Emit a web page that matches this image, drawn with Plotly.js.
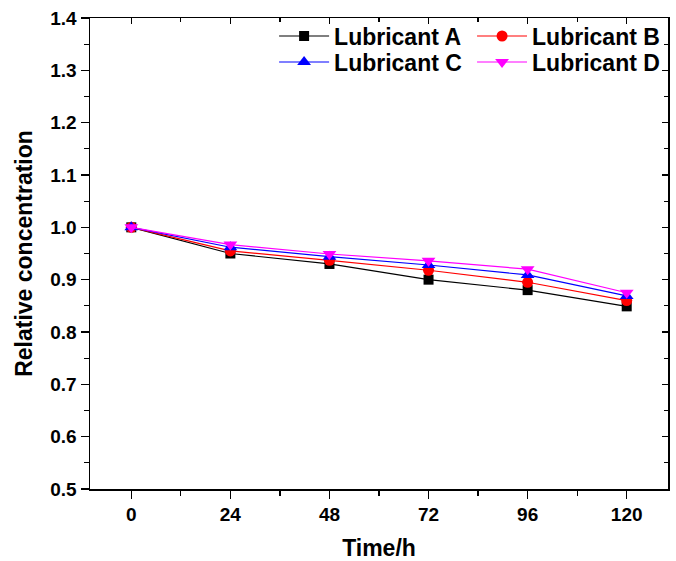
<!DOCTYPE html>
<html>
<head>
<meta charset="utf-8">
<script src="https://cdn.plot.ly/plotly-3.0.1.min.js"></script>
<style>html,body{margin:0;padding:0;background:#fff;}#chart{width:676px;height:561px;}</style>
</head>
<body>
<div id="chart"></div>
<script>
const timeH = [0, 24, 48, 72, 96, 120];
const lubricantA = [1.0, 0.950, 0.930, 0.900, 0.880, 0.849];
const lubricantB = [1.0, 0.955, 0.937, 0.918, 0.895, 0.860];
const lubricantC = [1.0, 0.962, 0.944, 0.928, 0.909, 0.869];
const lubricantD = [1.0, 0.967, 0.949, 0.936, 0.920, 0.875];
const seriesNames = ['Lubricant A', 'Lubricant B', 'Lubricant C', 'Lubricant D'];
const xTickVals = [0, 24, 48, 72, 96, 120];

const font = {family: 'Liberation Sans, Arial, sans-serif', color: '#000', weight: 'bold'};

function tr(name, y, color, symbol, size, legend) {
  return {
    x: timeH, y: y, name: name, type: 'scatter', mode: 'lines+markers',
    line: {color: color, width: 1.2},
    marker: {color: color, symbol: symbol, size: size},
    legend: legend
  };
}

const data = [
  tr(seriesNames[0], lubricantA, '#000000', 'square', 10, 'legend'),
  tr(seriesNames[1], lubricantB, '#FF0000', 'circle', 11, 'legend2'),
  tr(seriesNames[2], lubricantC, '#0000FF', 'triangle-up', 12, 'legend3'),
  tr(seriesNames[3], lubricantD, '#FF00FF', 'triangle-down', 12, 'legend4'),
  {x: [], y: [], xaxis: 'x2', yaxis: 'y2', showlegend: false, type: 'scatter', mode: 'markers', hoverinfo: 'skip'}
];

const legendBase = {
  font: Object.assign({}, font, {size: 23}),
  bgcolor: 'rgba(0,0,0,0)', borderwidth: 0,
  yanchor: 'middle', xanchor: 'left',
  itemwidth: 50, tracegroupgap: 0
};

const layout = {
  width: 676, height: 561,
  paper_bgcolor: '#fff', plot_bgcolor: '#fff',
  margin: {l: 90, r: 8, t: 18, b: 72},
  showlegend: true,
  font: font,
  xaxis: {
    range: [-10, 130], tickvals: xTickVals, ticktext: xTickVals.map(String),
    ticks: 'outside', ticklen: 8, tickwidth: 1.2, tickcolor: '#000',
    minor: {dtick: 12, tick0: 0, ticks: 'outside', ticklen: 5, tickwidth: 1.2, tickcolor: '#000'},
    showline: true, linecolor: '#000', linewidth: 1.5, mirror: true,
    showgrid: false, zeroline: false,
    tickfont: Object.assign({}, font, {size: 19}),
    title: {text: 'Time/h', font: Object.assign({}, font, {size: 23}), standoff: 16},
    automargin: false
  },
  yaxis: {
    range: [0.5, 1.4], dtick: 0.1, tick0: 0.5, tickformat: '.1f',
    ticks: 'outside', ticklen: 8, tickwidth: 1.2, tickcolor: '#000',
    minor: {dtick: 0.05, tick0: 0.5, ticks: 'outside', ticklen: 5, tickwidth: 1.2, tickcolor: '#000'},
    showline: true, linecolor: '#000', linewidth: 1.5, mirror: true,
    showgrid: false, zeroline: false,
    tickfont: Object.assign({}, font, {size: 19}),
    title: {text: 'Relative concentration', font: Object.assign({}, font, {size: 23}), standoff: 11},
    automargin: false
  },
  xaxis2: {
    overlaying: 'x', side: 'top', anchor: 'y2', range: [-10, 130], tickvals: xTickVals,
    ticks: 'inside', ticklen: 6, tickwidth: 1.2, tickcolor: '#000', showticklabels: false,
    minor: {dtick: 12, tick0: 0, ticks: 'inside', ticklen: 4, tickwidth: 1.2, tickcolor: '#000'},
    showgrid: false, zeroline: false, showline: false
  },
  yaxis2: {
    overlaying: 'y', side: 'right', anchor: 'x2', range: [0.5, 1.4], dtick: 0.1, tick0: 0.5,
    ticks: 'inside', ticklen: 6, tickwidth: 1.2, tickcolor: '#000', showticklabels: false,
    minor: {dtick: 0.05, tick0: 0.5, ticks: 'inside', ticklen: 4, tickwidth: 1.2, tickcolor: '#000'},
    showgrid: false, zeroline: false, showline: false
  },
  legend: Object.assign({}, legendBase, {x: 0.3185, y: 0.9617}),
  legend2: Object.assign({}, legendBase, {x: 0.661, y: 0.9617}),
  legend3: Object.assign({}, legendBase, {x: 0.3185, y: 0.9065}),
  legend4: Object.assign({}, legendBase, {x: 0.661, y: 0.9065})
};

Plotly.newPlot('chart', data, layout, {displayModeBar: false, staticPlot: true});
</script>
</body>
</html>
